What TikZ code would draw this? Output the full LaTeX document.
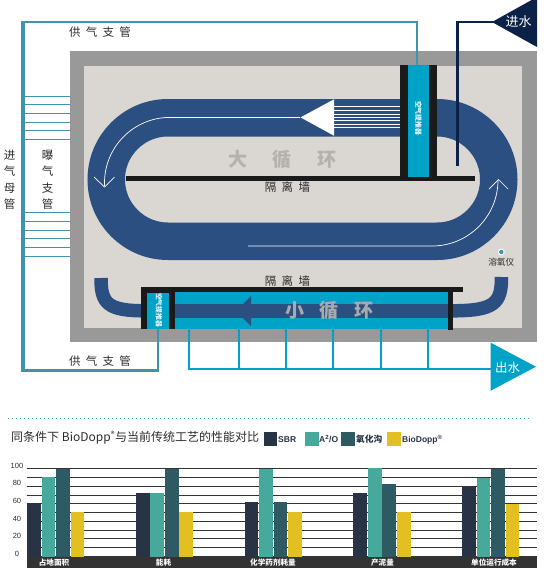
\documentclass[tikz,border=0pt]{standalone}
\usepackage{fontspec}
\setmainfont{Noto Sans CJK SC}
\newfontfamily\latinf{Liberation Sans}
\definecolor{pipe}{HTML}{3E94AB}
\definecolor{tank}{HTML}{999999}
\definecolor{floorc}{HTML}{DAD6D1}
\definecolor{flow}{HTML}{2B4F80}
\definecolor{cyanb}{HTML}{00A3C8}
\definecolor{wall}{HTML}{1A1A1A}
\definecolor{navy}{HTML}{0B2147}
\definecolor{sbr}{HTML}{283345}
\definecolor{aao}{HTML}{47A99B}
\definecolor{oxd}{HTML}{2D5A63}
\definecolor{bio}{HTML}{E3C022}
\definecolor{base}{HTML}{333333}
\definecolor{txt}{HTML}{2B2B2B}
\definecolor{bigg}{HTML}{B5B2AE}
\definecolor{smallg}{HTML}{A8ABAE}
\begin{document}
\begin{tikzpicture}[x=1pt,y=-1pt,
  lab/.style={font=\fontsize{11.5}{16.5}\selectfont,text=txt,inner sep=0},
  tiny/.style={font=\fontsize{6.8}{7}\selectfont\bfseries,text=white!90!cyanb,inner sep=0,rotate=-90},
  ytick/.style={font=\fontsize{7.5}{8}\selectfont\latinf,text=txt,inner sep=0},
  xtick/.style={font=\fontsize{7.6}{8}\selectfont\bfseries,text=white,inner sep=0},
  legt/.style={font=\fontsize{8.5}{9}\selectfont\latinf\bfseries,text=sbr,inner sep=0,anchor=base west},
  thinp/.style={draw=pipe,line width=0.7pt},
  cyanl/.style={draw=cyanb,line width=2.2pt},
  flowband/.style={draw=flow,line width=37.5pt,line cap=butt},
  wline/.style={draw=white,line width=0.7pt}]
\useasboundingbox (0,0) rectangle (547,574);
% tank
\fill[tank] (70,51) rectangle (537,342);
\fill[floorc] (84,66) rectangle (522,328);
% supply pipes
\coordinate (pt) at (23,22);
\coordinate (pb) at (23,370.3);
\coordinate (pr) at (417.2,22);
\coordinate (pq) at (158,370.3);
\draw[draw=pipe,line width=2.2pt] (417.2,66) -- (pr) -- (21,22);
\draw[draw=pipe,line width=4pt] (23,21) -- (23,372);
\draw[draw=pipe,line width=3.4pt] (21,370.3) -- (159,370.3);
\draw[draw=pipe,line width=2pt] (158,372) -- (158,329);
% aeration branches
\foreach \y in {96.3,104.3,113.3,122.3,130.3,139.3,212.3,221.3,230.3,238.3,247.3,256.3}
  \draw[thinp] (25,\y) -- (70,\y);
% big loop
\draw[flowband] (168,117.75) -- (437,117.75) arc[start angle=-90,end angle=90,radius=61.75] -- (168,241.25)
  arc[start angle=90,end angle=270,radius=61.75] -- cycle;
\draw[wline] (300,117.4) -- (170,117.4) arc[start angle=-90,end angle=-180,radius=65.5] -- (104.5,186);
\draw[wline] (94,177) -- (104.5,187) -- (114.5,177);
\draw[wline] (498,180) arc[start angle=0,end angle=90,radius=66] -- (248,246);
\draw[wline] (489,189) -- (498.5,179.5) -- (508,189);
% big arrowhead
\fill[white] (300.5,117.4) -- (334,99.3) -- (334,135.7) -- cycle;
\foreach \y in {106.7,110,114,117.3,120.7,124,127.3}
  \draw[wline] (334,\y) -- (400,\y);
% walls big
\fill[wall] (126,176) rectangle (475,181);
\fill[wall] (400,65) rectangle (437,181);
\fill[cyanb] (408,65) rectangle (429,177);
\node[tiny] (n1) at (418.5,118) {空气提推器};
\node[lab] (w1) at (287.5,187.5) {隔\hspace{5.5pt}离\hspace{5.5pt}墙};
\node[font=\fontsize{19}{19}\selectfont\bfseries,text=bigg,inner sep=0] (bigt) at (282.5,159) {大\hspace{26pt}循\hspace{26pt}环};
% inlet
\coordinate (ia) at (457.5,22);
\draw[draw=navy,line width=3pt] (457.5,166) -- (ia);
\draw[draw=navy,line width=2.2pt] (456,22) -- (495,22);
\fill[navy] (492,22) -- (537,-3) -- (537,47) -- cycle;
\node[font=\fontsize{13}{13}\selectfont,text=white,inner sep=0] (in) at (518.5,22) {进水};
% labels left
\node[lab] (s1) at (100,32) {供\hspace{5.2pt}气\hspace{5.2pt}支\hspace{5.2pt}管};
\node[lab] (s2) at (100,361.5) {供\hspace{5.2pt}气\hspace{5.2pt}支\hspace{5.2pt}管};
\node[lab,align=center] (s3) at (9.7,180) {进\\气\\母\\管};
\node[lab,align=center] (s4) at (47.7,180) {曝\\气\\支\\管};
% small loop
\draw[draw=flow,line width=13.5pt] (101,278) .. controls (101,303) and (107,310.8) .. (145,310.8);
\draw[draw=flow,line width=13.5pt] (501.5,277) .. controls (501.5,303) and (495,310.8) .. (452,310.8);
% small channel
\fill[wall] (141,287) rectangle (463,292);
\fill[wall] (141,287) rectangle (175,329);
\fill[wall] (448,287) rectangle (453,330);
\fill[cyanb] (147,293) rectangle (169,329);
\fill[cyanb] (175,292) rectangle (448,329);
\fill[flow] (175,304) rectangle (448,318);
\fill[flow] (236,311) -- (251,296) -- (251,326) -- cycle;
\node[tiny] (n2) at (159,310) {空气提推器};
\node[lab] (w2) at (287.5,281) {隔\hspace{5.5pt}离\hspace{5.5pt}墙};
\node[font=\fontsize{19}{19}\selectfont\bfseries,text=smallg,inner sep=0] (smallt) at (329.5,310) {小\hspace{16pt}循\hspace{16pt}环};
% outlet
\draw[draw=cyanb,line width=1.8pt] (188,369) -- (495,369);
\foreach \x in {189.3,239,286,333.3,380.7,428.3}
  \draw[cyanl] (\x,329) -- (\x,369);
\fill[cyanb] (490.7,342.7) -- (536,366.7) -- (490.7,390.7) -- cycle;
\node[font=\fontsize{12.5}{13}\selectfont,text=white,inner sep=0] (out) at (507.5,368) {出水};
% DO
\fill[white] (501.3,252) circle (3.4);
\fill[pipe] (501.3,252) circle (2.2);
\node[font=\fontsize{8.7}{9}\selectfont,text=txt,inner sep=0] (do) at (501.3,261.7) {溶氧仪};
% divider
\draw[draw=aao,line width=0.8pt,dash pattern=on 0.8pt off 3.2pt] (8,418.7) -- (532,418.7);
% chart title
\node[font=\fontsize{12}{12}\selectfont,text=txt,inner sep=0,anchor=west] (title) at (11,438) {同条件下 BioDopp\textsuperscript{®}与当前传统工艺的性能对比};
\fill[sbr] (264,432) rectangle (277,446);
\node[legt] (l1) at (278,442) {SBR};
\fill[aao] (305,432) rectangle (319,446);
\node[legt] (l2) at (319,442) {A\textsuperscript{2}/O};
\fill[oxd] (341,432) rectangle (355,446);
\node[font=\fontsize{8.7}{9}\selectfont\bfseries,text=sbr,inner sep=0,anchor=base west] (l3) at (356,442) {氧化沟};
\fill[bio] (387,432) rectangle (401,446);
\node[legt] (l4) at (402,442) {BioDopp\textsuperscript{®}};
% gridlines
\foreach \y in {468.3,477.3,486.3,495.3,503.3,512.3,521.3,530.3,538.3,547.3}
  \draw[draw=base,line width=0.9pt] (26.7,\y) -- (536.7,\y);
% y labels
\foreach \v/\y in {100/466,80/483.3,60/501,40/519,20/536,0/554}
  \node[ytick] (y\v) at (17,\y) {\v};
% baseline band
\fill[base] (27,556) rectangle (537,568);
% bars
\newcommand{\barr}[4]{\fill[#1] (#2,#3) rectangle (#4,557);}
\barr{sbr}{27}{503}{41}\barr{aao}{42}{477}{55}\barr{oxd}{56}{468.5}{70}\barr{bio}{71}{512}{84}
\barr{sbr}{136}{493}{150}\barr{aao}{150}{493}{164}\barr{oxd}{165}{468.5}{179}\barr{bio}{179}{512}{193}
\barr{sbr}{245}{502}{258}\barr{aao}{259}{468.5}{273}\barr{oxd}{274}{502}{287}\barr{bio}{288}{512}{302}
\barr{sbr}{353}{493}{367}\barr{aao}{368}{468}{382}\barr{oxd}{382}{484}{396}\barr{bio}{397}{512}{411}
\barr{sbr}{462}{486.7}{476}\barr{aao}{477}{477.7}{490}\barr{oxd}{491}{468.7}{505}\barr{bio}{506}{504}{519}
\node[xtick] (x1) at (54,562.3) {占地面积};
\node[xtick] (x2) at (163.5,562.3) {能耗};
\node[xtick] (x3) at (273,562.3) {化学药剂耗量};
\node[xtick] (x4) at (382.5,562.3) {产泥量};
\node[xtick] (x5) at (494,562.3) {单位运行成本};
\end{tikzpicture}
\end{document}
